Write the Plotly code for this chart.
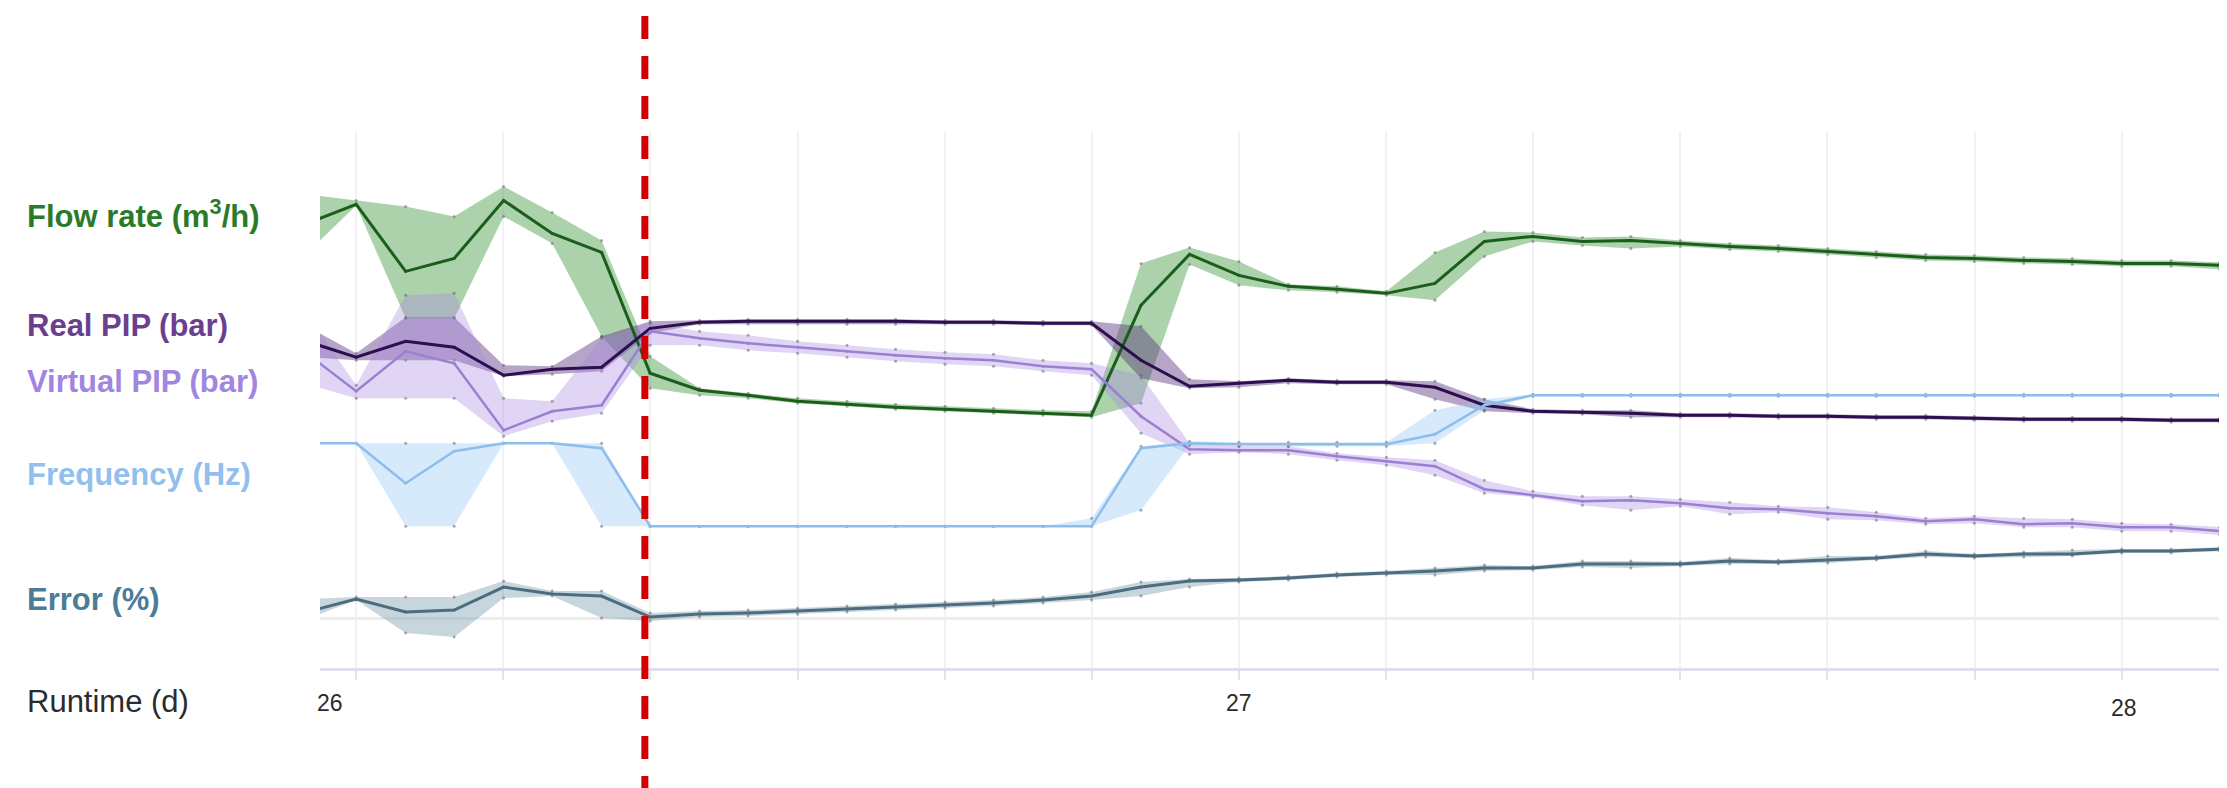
import plotly.graph_objects as go

# Runtime (days) of each sample
runtime_d = [25.944, 26.000, 26.056, 26.111, 26.167, 26.222, 26.278, 26.333, 26.389, 26.444,
             26.500, 26.556, 26.611, 26.667, 26.722, 26.778, 26.833, 26.889, 26.944, 27.000,
             27.056, 27.111, 27.167, 27.222, 27.278, 27.333, 27.389, 27.444, 27.500, 27.556,
             27.611, 27.667, 27.722, 27.778, 27.833, 27.889, 27.944, 28.000, 28.056, 28.111]

# Normalised plot levels (no y scale shown on the chart)
flow_mid = [445, 464, 397, 410, 468, 435, 416, 295, 278, 273, 267, 264, 261, 259, 257, 255, 253, 363, 414, 393,
            382, 379, 375, 385, 427, 432, 427, 428, 425, 422, 420, 417, 414, 411, 410, 408, 407, 405, 405, 403]
flow_hi = [474, 468, 462, 452, 482, 456, 428, 312, 280, 275, 270, 267, 264, 262, 260, 258, 257, 405, 421, 407,
           384, 382, 377, 416, 437, 436, 431, 432, 428, 425, 423, 420, 417, 414, 413, 411, 410, 408, 408, 406]
flow_lo = [415, 463, 350, 350, 452, 425, 332, 280, 273, 270, 265, 262, 259, 257, 255, 253, 251, 265, 404, 383,
           378, 376, 373, 368, 412, 427, 423, 420, 422, 419, 417, 414, 411, 408, 407, 405, 404, 402, 402, 399]

real_mid = [327, 311, 327, 321, 293, 299, 301, 340, 346, 347, 347, 347, 347, 346, 346, 345, 345, 308, 282, 285,
            288, 286, 286, 281, 263, 257, 256, 255, 253, 253, 252, 252, 251, 251, 250, 249, 249, 249, 248, 248]
real_hi = [342, 315, 351, 351, 303, 302, 332, 347, 348, 349, 349, 349, 349, 348, 348, 347, 347, 342, 289, 287,
           290, 288, 288, 287, 269, 259, 258, 258, 255, 255, 254, 254, 253, 253, 252, 251, 251, 251, 250, 250]
real_lo = [311, 308, 308, 308, 292, 294, 297, 335, 344, 344, 344, 344, 344, 344, 344, 343, 343, 290, 280, 281,
           285, 284, 284, 269, 257, 255, 254, 251, 251, 251, 250, 250, 249, 249, 248, 247, 247, 247, 246, 246]

virt_mid = [315, 277, 317, 305, 238, 257, 263, 337, 330, 325, 321, 317, 313, 310, 308, 302, 299, 252, 219, 218,
            218, 212, 207, 202, 179, 173, 167, 168, 165, 160, 159, 155, 152, 147, 149, 144, 145, 141, 141, 137]
virt_hi = [354, 283, 373, 375, 270, 267, 330, 345, 337, 333, 327, 323, 319, 316, 314, 308, 305, 293, 225, 222,
           222, 215, 211, 208, 188, 177, 172, 172, 169, 166, 162, 161, 156, 150, 152, 150, 149, 145, 144, 141]
virt_lo = [284, 270, 270, 270, 232, 247, 255, 323, 323, 318, 315, 311, 307, 304, 302, 297, 293, 235, 214, 216,
           214, 208, 203, 193, 175, 171, 163, 158, 162, 154, 156, 149, 148, 144, 145, 141, 141, 137, 137, 133]

freq_mid = [225, 225, 185, 217, 225, 225, 220, 142, 142, 142, 142, 142, 142, 142, 142, 142, 142, 220, 225, 224,
            224, 224, 224, 234, 263, 273, 273, 273, 273, 273, 273, 273, 273, 273, 273, 273, 273, 273, 273, 273]
freq_hi = [225, 225, 225, 225, 225, 225, 225, 142, 142, 142, 142, 142, 142, 142, 142, 142, 150, 222, 227, 226,
           226, 226, 226, 258, 269, 274, 274, 274, 274, 274, 274, 274, 274, 274, 274, 274, 274, 274, 274, 274]
freq_lo = [225, 225, 142, 142, 225, 225, 142, 142, 142, 142, 142, 142, 142, 142, 142, 142, 142, 158, 223, 222,
           222, 222, 222, 225, 258, 272, 272, 272, 272, 272, 272, 272, 272, 272, 272, 272, 272, 272, 272, 272]

err_mid = [56, 69, 56, 58, 81, 74, 72, 51, 54, 55, 57, 59, 61, 63, 65, 68, 72, 81, 87, 88,
           90, 93, 95, 97, 100, 100, 104, 104, 104, 107, 106, 108, 110, 114, 112, 114, 114, 117, 117, 119]
err_hi = [69, 71, 71, 71, 87, 77, 77, 55, 57, 58, 60, 62, 64, 66, 68, 71, 76, 86, 89, 90,
          92, 95, 97, 100, 103, 102, 107, 107, 106, 110, 108, 112, 112, 117, 114, 116, 118, 119, 119, 121]
err_lo = [49, 68, 35, 31, 70, 72, 50, 47, 51, 52, 54, 56, 58, 60, 62, 65, 68, 72, 81, 86,
          88, 91, 93, 93, 97, 98, 101, 100, 102, 104, 104, 105, 108, 111, 110, 111, 112, 115, 115, 117]

event_day = 26.327
x_range = [25.959, 28.117]
major_ticks = [26, 27, 28]

series = [
    # label, mid, hi, lo, line colour, line width, fill colour, label colour, label level
    ("Flow rate (m<sup>3</sup>/h)", flow_mid, flow_hi, flow_lo, "#1b5e1b", 3, "rgba(70,155,70,0.45)", "#2a7a2a", 454),
    ("Real PIP (bar)", real_mid, real_hi, real_lo, "#2c0f4f", 3, "rgba(80,40,120,0.42)", "#6a3f8e", 343),
    ("Virtual PIP (bar)", virt_mid, virt_hi, virt_lo, "#9a80d2", 2.5, "rgba(165,135,225,0.35)", "#a185e0", 287),
    ("Frequency (Hz)", freq_mid, freq_hi, freq_lo, "#8dbdec", 2.5, "rgba(150,200,245,0.38)", "#91c0ee", 194),
    ("Error (%)", err_mid, err_hi, err_lo, "#4c6d7e", 3, "rgba(95,135,155,0.35)", "#4b7c98", 69),
]

fig = go.Figure()
dot = dict(size=3, color="rgba(90,90,90,0.5)")
for name, mid, hi, lo, lc, lw, fc, tc, lvl in series:
    fig.add_trace(go.Scatter(x=runtime_d, y=hi, mode="lines+markers", line=dict(width=0, color=fc),
                             marker=dot, hoverinfo="skip", showlegend=False))
    fig.add_trace(go.Scatter(x=runtime_d, y=lo, mode="lines+markers", line=dict(width=0, color=fc),
                             marker=dot, fill="tonexty", fillcolor=fc, hoverinfo="skip", showlegend=False))
for name, mid, hi, lo, lc, lw, fc, tc, lvl in series:
    fig.add_trace(go.Scatter(x=runtime_d, y=mid, mode="lines+markers", line=dict(width=lw, color=lc),
                             marker=dict(size=3, color=lc), name=name, showlegend=False))

label_font = "Liberation Sans, Arial, sans-serif"
for name, mid, hi, lo, lc, lw, fc, tc, lvl in series:
    fig.add_annotation(text="<b>" + name + "</b>", x=-0.155, xref="paper", y=lvl, yref="y",
                       xanchor="left", yanchor="middle", showarrow=False,
                       font=dict(family=label_font, size=31, color=tc))
fig.add_annotation(text="Runtime (d)", x=-0.155, xref="paper", y=-0.0615, yref="paper",
                   xanchor="left", yanchor="middle", showarrow=False,
                   font=dict(family=label_font, size=31, color="#2b2b2b"))

# tick labels (day numbers), placed in paper space below the axis
x_span = x_range[1] - x_range[0]
tick_pos = {26: (-26, -0.065), 27: (0, -0.065), 28: (2, -0.0745)}
for d in major_ticks:
    dx, py = tick_pos[d]
    fig.add_annotation(text=str(d), x=(d - x_range[0]) / x_span, xref="paper", y=py, yref="paper",
                       xshift=dx, xanchor="center", yanchor="middle", showarrow=False,
                       font=dict(family=label_font, size=23, color="#2b2b2b"))

# event marker
fig.add_shape(type="line", xref="x", yref="paper", x0=event_day, x1=event_day, y0=1.214, y1=-0.24,
              line=dict(color="#d20000", width=7, dash="23px,17px"))

fig.update_layout(
    width=2227, height=788,
    margin=dict(l=312, r=10, t=123, b=128),
    paper_bgcolor="white", plot_bgcolor="white",
    showlegend=False,
    xaxis=dict(range=x_range, tick0=26, dtick=1/6, showgrid=True, gridcolor="#f1f1f6", gridwidth=1.5,
               showticklabels=False, ticks="outside", ticklen=9, tickcolor="#e4e4ee", tickwidth=1.5,
               showline=True, linecolor="#dedeee", linewidth=3, zeroline=False),
    yaxis=dict(range=[0, 537.5], tickvals=[50, 537], showticklabels=False, showgrid=True,
               gridcolor="#ededed", gridwidth=3, zeroline=False, showline=False),
)

fig.write_html("out.html")
